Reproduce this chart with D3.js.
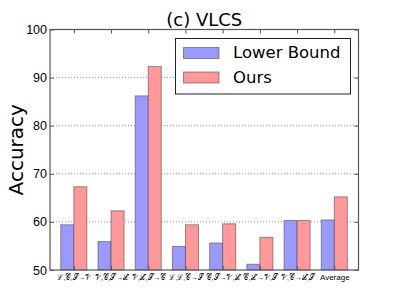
<!DOCTYPE html>
<html>
<head>
<meta charset="utf-8">
<script src="https://cdn.jsdelivr.net/npm/d3@7"></script>
<style>
  body { margin: 0; background: #fff; }
  svg { font-family: "DejaVu Sans", sans-serif; }
</style>
</head>
<body>
<svg id="chart" width="399" height="299"></svg>
<script>
// data
const categories = [
  "ℒ,𝒞,𝒮→𝒱", "𝒱,𝒞,𝒮→ℒ", "𝒱,ℒ,𝒮→𝒞", "ℒ,ℒ,𝒞→𝒮",
  "𝒞,𝒮→𝒱,ℒ", "𝒞,ℒ→𝒱,𝒮", "𝒱,𝒞→ℒ,𝒮", "Average"
];
const lowerBound = [59.4, 55.9, 86.2, 54.9, 55.6, 51.2, 60.3, 60.4];
const ours = [67.3, 62.3, 92.3, 59.4, 59.6, 56.8, 60.3, 65.2];
const yTicks = [50, 60, 70, 80, 90, 100];
const gridTicks = [60, 70, 80, 90];

const barW = 0.35;
const margin = { top: 29.5, right: 40.5, bottom: 29, left: 50 };
const width = 399, height = 299;

const svg = d3.select("#chart");

const x = d3.scaleLinear()
  .domain([-0.29, 8])
  .range([margin.left, width - margin.right]);

const y = d3.scaleLinear()
  .domain([50, 100])
  .range([height - margin.bottom, margin.top]);

// grid
svg.append("g")
  .selectAll("line")
  .data(gridTicks)
  .join("line")
  .attr("x1", margin.left)
  .attr("x2", width - margin.right)
  .attr("y1", d => y(d))
  .attr("y2", d => y(d))
  .attr("stroke", "#777")
  .attr("stroke-width", 0.8)
  .attr("stroke-dasharray", "1,2");

// bars
const series = [
  { values: lowerBound, offset: 0, fill: "#9999ff" },
  { values: ours, offset: barW, fill: "#ff9999" }
];
series.forEach(s => {
  svg.append("g")
    .selectAll("rect")
    .data(s.values)
    .join("rect")
    .attr("x", (d, i) => x(i + s.offset))
    .attr("width", x(barW) - x(0))
    .attr("y", d => y(d))
    .attr("height", d => y(50) - y(d))
    .attr("fill", s.fill)
    .attr("stroke", "#444")
    .attr("stroke-opacity", 0.55)
    .attr("stroke-width", 1);
});

// axes
const tickPos = categories.map((c, i) => i + barW);

const xAxis = svg.append("g")
  .attr("transform", `translate(0,${height - margin.bottom})`)
  .call(d3.axisBottom(x)
    .tickValues(tickPos)
    .tickFormat((d, i) => categories[i])
    .tickSize(-4)
    .tickPadding(3)
    .tickSizeOuter(0));
xAxis.selectAll("text")
  .attr("font-size", 8)
  .attr("fill", "#000")
  .attr("dy", "0.9em")
  // the script letters come out wide in the fallback font, squeeze them
  .each(function (d, i) {
    if (categories[i] !== "Average") {
      d3.select(this)
        .attr("textLength", 34)
        .attr("lengthAdjust", "spacingAndGlyphs");
    }
  });

svg.append("g")
  .attr("transform", `translate(0,${margin.top})`)
  .call(d3.axisTop(x)
    .tickValues(tickPos)
    .tickFormat("")
    .tickSize(-4)
    .tickSizeOuter(0));

const yAxis = svg.append("g")
  .attr("transform", `translate(${margin.left},0)`)
  .call(d3.axisLeft(y)
    .tickValues(yTicks)
    .tickSize(-4)
    .tickPadding(3)
    .tickSizeOuter(0));
yAxis.selectAll("text")
  .attr("font-size", 12.5)
  .attr("fill", "#000");

svg.append("g")
  .attr("transform", `translate(${width - margin.right},0)`)
  .call(d3.axisRight(y)
    .tickValues(yTicks)
    .tickFormat("")
    .tickSize(-4)
    .tickSizeOuter(0));

svg.selectAll(".domain").remove();
svg.selectAll(".tick line").attr("stroke", "#555");

// frame
svg.append("rect")
  .attr("x", margin.left)
  .attr("y", margin.top)
  .attr("width", width - margin.left - margin.right)
  .attr("height", height - margin.top - margin.bottom)
  .attr("fill", "none")
  .attr("stroke", "#555")
  .attr("stroke-width", 1.2);

// title and y label
svg.append("text")
  .attr("x", (margin.left + width - margin.right) / 2)
  .attr("y", 26)
  .attr("text-anchor", "middle")
  .attr("font-size", 18)
  .text("(c) VLCS");

svg.append("text")
  .attr("transform", `translate(23,${(margin.top + height - margin.bottom) / 2}) rotate(-90)`)
  .attr("text-anchor", "middle")
  .attr("font-size", 20)
  .text("Accuracy");

// legend
const legend = svg.append("g");
legend.append("rect")
  .attr("x", 175.5).attr("y", 38.5)
  .attr("width", 175).attr("height", 55.5)
  .attr("fill", "#fff")
  .attr("stroke", "#222")
  .attr("stroke-width", 1);

const legendItems = [
  { label: "Lower Bound", fill: "#9999ff" },
  { label: "Ours", fill: "#ff9999" }
];
legendItems.forEach((d, i) => {
  legend.append("rect")
    .attr("x", 183.5).attr("y", 47.5 + i * 24.5)
    .attr("width", 35.5).attr("height", 11)
    .attr("fill", d.fill)
    .attr("stroke", "#444")
    .attr("stroke-opacity", 0.55);
  legend.append("text")
    .attr("x", 233)
    .attr("y", 58.3 + i * 25)
    .attr("font-size", 16.5)
    .text(d.label);
});
</script>
</body>
</html>
